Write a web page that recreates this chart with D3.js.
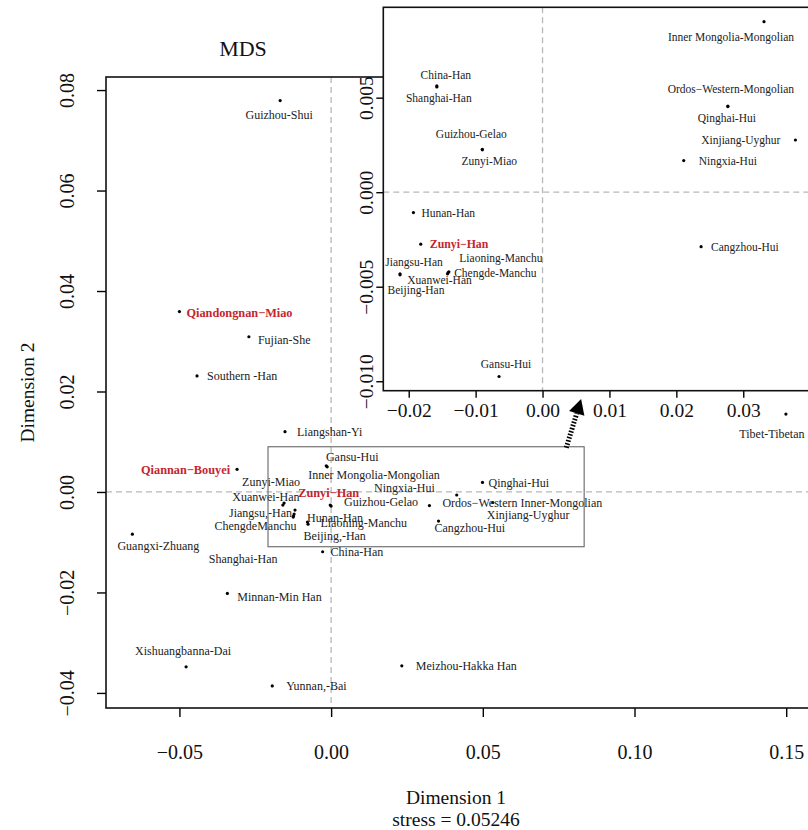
<!DOCTYPE html>
<html><head><meta charset="utf-8">
<script src="https://cdn.jsdelivr.net/npm/d3@7"></script>
<style>
body{margin:0;background:#fff}
svg{display:block}
text{font-family:"Liberation Serif","Times New Roman",serif}
</style>
</head><body>
<svg id="c" width="808" height="830"></svg>
<script>
// ---------------- DATA ----------------
const mainNames = ["Guizhou-Shui","Qiandongnan\u2212Miao","Fujian-She","Southern -Han","Liangshan-Yi","Qiannan\u2212Bouyei",
  "Guangxi-Zhuang","Shanghai-Han","Minnan-Min Han","Xishuangbanna-Dai","Yunnan,-Bai","Meizhou-Hakka Han","Tibet-Tibetan",
  "Gansu-Hui","Inner Mongolia-Mongolian","Zunyi-Miao","Xuanwei-Han","Zunyi\u2212Han","Guizhou-Gelao","Jiangsu,-Han",
  "ChengdeManchu","Hunan-Han","Liaoning-Manchu","Beijing,-Han","China-Han","Ordos\u2212Western Inner-Mongolian",
  "Ningxia-Hui","Qinghai-Hui","Xinjiang-Uyghur","Cangzhou-Hui"];
const mainX = [-0.0168,-0.0500,-0.0271,-0.0442,-0.0152,-0.0310,
  -0.0655,-0.0125,-0.0342,-0.0478,-0.0194,0.0233,0.1499,
  -0.0016,-0.0013,-0.0155,-0.0159,-0.0003,0.0000,-0.0119,
  -0.0124,-0.0122,-0.0078,-0.0076,-0.0028,0.0324,
  0.0414,0.0499,0.0533,0.0354];
const mainY = [0.0779,0.0359,0.0309,0.0231,0.0120,0.0045,
  -0.0084,-0.0050,-0.0202,-0.0348,-0.0386,-0.0346,0.0155,
  0.0052,0.0050,-0.0022,-0.0026,-0.0026,-0.0028,-0.0036,
  -0.0048,-0.0044,-0.0060,-0.0064,-0.0119,-0.0027,
  -0.0006,0.0019,-0.0021,-0.0058];
const mainHighlight = ["Qiandongnan\u2212Miao","Qiannan\u2212Bouyei","Zunyi\u2212Han"];

const insetNames = ["Inner Mongolia-Mongolian","China-Han","Shanghai-Han","Guizhou-Gelao","Zunyi-Miao",
  "Ordos\u2212Western-Mongolian","Qinghai-Hui","Xinjiang-Uyghur","Ningxia-Hui","Hunan-Han","Zunyi\u2212Han",
  "Liaoning-Manchu","Jiangsu-Han","Beijing-Han","Chengde-Manchu","Xuanwei-Han","Gansu-Hui","Cangzhou-Hui"];
const insetX = [0.0331,-0.0158,-0.0158,-0.0090,-0.0090,
  0.0277,0.0277,0.0378,0.0211,-0.0193,-0.0182,
  -0.0140,-0.0213,-0.0213,-0.0141,-0.0142,-0.0065,0.0237];
const insetY = [0.00902,0.00562,0.00557,0.00227,0.00224,
  0.00456,0.00453,0.00276,0.00167,-0.00108,-0.00275,
  -0.00421,-0.00432,-0.00437,-0.00425,-0.00432,-0.00975,-0.00288];
const insetHighlight = ["Zunyi\u2212Han"];

const mainXDomain = [-0.0742, 0.1585];
const mainYDomain = [-0.0430, 0.0826];
const insetXDomain = [-0.0238, 0.0402];
const insetYDomain = [-0.0105, 0.00978];

const mainXTicks = [-0.05, 0.00, 0.05, 0.10, 0.15];
const mainXTickLabels = ["\u22120.05","0.00","0.05","0.10","0.15"];
const mainYTicks = [-0.04,-0.02,0.00,0.02,0.04,0.06,0.08];
const mainYTickLabels = ["\u22120.04","\u22120.02","0.00","0.02","0.04","0.06","0.08"];
const insetXTicks = [-0.02,-0.01,0.00,0.01,0.02,0.03];
const insetXTickLabels = ["\u22120.02","\u22120.01","0.00","0.01","0.02","0.03"];
const insetYTicks = [-0.010,-0.005,0.000,0.005];
const insetYTickLabels = ["\u22120.010","\u22120.005","0.000","0.005"];

const zoomBoxX = [-0.0208, 0.0834];
const zoomBoxY = [-0.0109, 0.0090];
const arrowFrom = [0.0775, 0.0088];
const arrowTo = [0.0824, 0.0185];

const titleText = "MDS";
const xTitle = "Dimension 1";
const yTitle = "Dimension 2";
const stressText = "stress = 0.05246";

// ---------------- LABEL LAYOUT (pixel offsets) ----------------
const mainLabelLayout = [
  ["middle",-1,14],["start",7,1],["start",9,3],["start",10,0],["start",12,0],["end",-7,0],
  ["middle",26,12],["middle",-50,42],["start",10,3],["middle",-3,-16],["start",14,0],["start",14,0],["middle",-14,20],
  ["middle",26,-9],["start",-19,8],["middle",-13,-21],["middle",-17,-8],["start",-32,-12],["start",13,-4],["end",-3,3],
  ["middle",-38,10],["start",13,4],["start",13,1],["start",-4.5,11.5],["start",8,0],["start",13,-3],
  ["end",-22,-7],["start",6,0],["start",-6,12],["start",-4,7]];
const insetLabelLayout = [
  ["middle",-33,15.6],["middle",9,-11],["middle",2,11],["middle",-11,-15],["middle",7,11],
  ["middle",3,-17],["middle",-1,11],["end",-15,0],["start",15,0],["start",8,0],["start",9,0],
  ["middle",52,-14],["middle",14,-12],["middle",16,15],["start",6,0],["middle",-8,6],["middle",7,-13],["start",10,0]];

// ---------------- DRAW ----------------
const svg = d3.select("#c");
const RED = "#c4262e";
const M = {l:106, r:812, t:77, b:708};
const I = {l:383.3, r:811.5, t:7.3, b:390.7};

const mx = d3.scaleLinear().domain(mainXDomain).range([M.l, M.r]);
const my = d3.scaleLinear().domain(mainYDomain).range([M.b, M.t]);
const ix = d3.scaleLinear().domain(insetXDomain).range([I.l, I.r]);
const iy = d3.scaleLinear().domain(insetYDomain).range([I.b, I.t]);

function panel(g, xs, ys, R, names, X, Y, hl, layout, xt, xtl, yt, ytl, opt){
  g.append("line").attr("x1", xs(0)).attr("x2", xs(0)).attr("y1", R.t).attr("y2", R.b)
    .attr("stroke","#b8b8b8").attr("stroke-width",1.3).attr("stroke-dasharray","6,4");
  g.append("line").attr("x1", R.l).attr("x2", R.r).attr("y1", ys(0)).attr("y2", ys(0))
    .attr("stroke","#b8b8b8").attr("stroke-width",1.3).attr("stroke-dasharray","6,4");
  const ax = g.append("g").attr("transform",`translate(0,${R.b})`)
    .call(d3.axisBottom(xs).tickValues(xt).tickSize(opt.tick).tickFormat((d,i)=>xtl[i]));
  ax.select(".domain").remove();
  ax.selectAll("line").attr("stroke","#000").attr("stroke-width",1.4);
  ax.selectAll("text").attr("y", opt.xlab).attr("dy","0.35em")
    .attr("font-size", opt.fs).attr("font-family","Liberation Serif, serif").attr("fill","#111");
  const ay = g.append("g").attr("transform",`translate(${R.l},0)`)
    .call(d3.axisLeft(ys).tickValues(yt).tickSize(opt.tick).tickFormat((d,i)=>ytl[i]));
  ay.select(".domain").remove();
  ay.selectAll("line").attr("stroke","#000").attr("stroke-width",1.4);
  ay.selectAll("text").attr("x",0).attr("y",-opt.ylab).attr("dy","0.35em")
    .attr("transform","rotate(-90)").attr("text-anchor","middle")
    .attr("font-size", opt.fs).attr("font-family","Liberation Serif, serif").attr("fill","#111");
  g.append("rect").attr("x",R.l).attr("y",R.t).attr("width",R.r-R.l).attr("height",R.b-R.t)
    .attr("fill","none").attr("stroke","#111").attr("stroke-width",1.6);
  g.selectAll("circle.pt").data(names).enter().append("circle").attr("class","pt")
    .attr("cx",(d,i)=>xs(X[i])).attr("cy",(d,i)=>ys(Y[i])).attr("r",1.6).attr("fill","#000");
  g.selectAll("text.lab").data(names).enter().append("text").attr("class","lab")
    .attr("x",(d,i)=>xs(X[i])+layout[i][1]).attr("y",(d,i)=>ys(Y[i])+layout[i][2]).attr("dy","0.35em")
    .attr("text-anchor",(d,i)=>layout[i][0])
    .attr("font-size",(d)=>hl.includes(d)?opt.lfs+0.3:opt.lfs)
    .attr("font-weight",(d)=>hl.includes(d)?"bold":"normal")
    .attr("fill",(d)=>hl.includes(d)?RED:"#222")
    .text(d=>d);
}

const gm = svg.append("g");
panel(gm, mx, my, M, mainNames, mainX, mainY, mainHighlight, mainLabelLayout,
  mainXTicks, mainXTickLabels, mainYTicks, mainYTickLabels, {tick:9, xlab:44, ylab:39, fs:20, lfs:12});

gm.append("rect").attr("x", mx(zoomBoxX[0])).attr("y", my(zoomBoxY[1]))
  .attr("width", mx(zoomBoxX[1])-mx(zoomBoxX[0])).attr("height", my(zoomBoxY[0])-my(zoomBoxY[1]))
  .attr("fill","none").attr("stroke","#666").attr("stroke-width",1.1);

const ax0 = mx(arrowFrom[0]), ay0 = my(arrowFrom[1]), ax1 = mx(arrowTo[0]), ay1 = my(arrowTo[1]);
const ang = Math.atan2(ay1-ay0, ax1-ax0);
const hl = 15, hw = 8;
const bx = ax1 - hl*Math.cos(ang), by = ay1 - hl*Math.sin(ang);
gm.append("line").attr("x1",ax0).attr("y1",ay0).attr("x2",bx).attr("y2",by)
  .attr("stroke","#000").attr("stroke-width",5).attr("stroke-dasharray","1.6,1.6");
gm.append("path").attr("d", d3.line()([
  [ax1,ay1],
  [bx + hw*Math.sin(ang), by - hw*Math.cos(ang)],
  [bx - hw*Math.sin(ang), by + hw*Math.cos(ang)]
]) + "Z").attr("fill","#000");

svg.append("text").attr("x",243).attr("y",56).attr("text-anchor","middle").attr("font-size",22).attr("fill","#111").text(titleText);
svg.append("text").attr("x",(M.l+M.r)/2-3).attr("y",797).attr("dy","0.35em").attr("text-anchor","middle").attr("font-size",19.5).attr("fill","#111").text(xTitle);
svg.append("text").attr("x",(M.l+M.r)/2-3).attr("y",819).attr("dy","0.35em").attr("text-anchor","middle").attr("font-size",19.5).attr("fill","#111").text(stressText);
svg.append("text").attr("transform",`translate(27,${(M.t+M.b)/2}) rotate(-90)`).attr("dy","0.35em")
  .attr("text-anchor","middle").attr("font-size",19.5).attr("fill","#111").text(yTitle);

const gi = svg.append("g");
gi.append("rect").attr("x",I.l).attr("y",I.t).attr("width",I.r-I.l).attr("height",I.b-I.t).attr("fill","#fff");
panel(gi, ix, iy, I, insetNames, insetX, insetY, insetHighlight, insetLabelLayout,
  insetXTicks, insetXTickLabels, insetYTicks, insetYTickLabels, {tick:7, xlab:19.5, ylab:17, fs:19.5, lfs:11.5});
</script>
</body></html>
